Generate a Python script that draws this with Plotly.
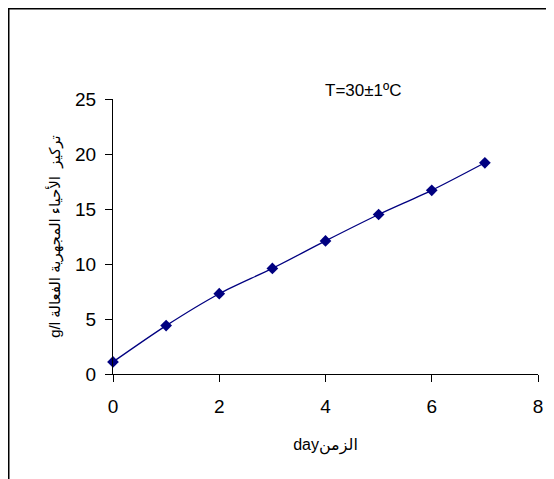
import plotly.graph_objects as go

days = [0, 1, 2, 3, 4, 5, 6, 7]
concentration = [1.1, 4.4, 7.3, 9.6, 12.1, 14.5, 16.7, 19.2]

x_ticks = [0, 2, 4, 6, 8]
y_ticks = [0, 5, 10, 15, 20, 25]

x_title = "dayالزمن"
y_title = "g/l تركيز  الأحياء المجهرية الفعالة"
note = "T=30±1ºC"

OFF = 8  # page body margin
W, H = 554 - OFF, 479 - OFF
L = 113 - OFF
T = 99 - OFF
R = W - (538 - OFF)
B = H - (374 - OFF)
pw, ph = W - L - R, H - T - B

def px_to_paper_x(px):
    return (px - OFF - L) / pw

def px_to_paper_y(py):
    return (H - B - (py - OFF)) / ph

font_family = "Liberation Sans, Arial, DejaVu Sans, sans-serif"

fig = go.Figure()
fig.add_trace(go.Scatter(
    x=days, y=concentration,
    mode="lines+markers",
    line=dict(color="#000080", width=1.3, shape="spline", smoothing=0.8),
    marker=dict(symbol="diamond", size=9, color="#000080"),
    showlegend=False,
    cliponaxis=False,
))

fig.update_layout(
    width=W, height=H,
    margin=dict(l=L, r=R, t=T, b=B, autoexpand=False),
    paper_bgcolor="white", plot_bgcolor="white",
    font=dict(family=font_family, color="black"),
    xaxis=dict(
        range=[0, 8], tickvals=x_ticks, ticktext=[str(v) for v in x_ticks],
        showgrid=False, zeroline=False, showline=True, linecolor="black", linewidth=1,
        ticks="outside", ticklen=7, tickcolor="black", tickwidth=1,
        ticklabelstandoff=8,
        tickfont=dict(size=19), automargin=False,
        title=dict(text=x_title, font=dict(size=16), standoff=23),
    ),
    yaxis=dict(
        range=[0, 25], tickvals=y_ticks, ticktext=[str(v) for v in y_ticks],
        showgrid=False, zeroline=False, showline=True, linecolor="black", linewidth=1,
        ticks="outside", ticklen=7, tickcolor="black", tickwidth=1,
        ticklabelstandoff=5,
        tickfont=dict(size=19), automargin=False,
        title=dict(text=y_title, font=dict(size=15), standoff=10),
    ),
    annotations=[dict(
        text=note, x=px_to_paper_x(363), y=px_to_paper_y(90),
        xref="paper", yref="paper", showarrow=False,
        font=dict(size=17), xanchor="center", yanchor="middle",
    )],
    shapes=[dict(
        type="rect", xref="paper", yref="paper",
        x0=px_to_paper_x(OFF + 0.75), x1=px_to_paper_x(600),
        y0=px_to_paper_y(520), y1=px_to_paper_y(OFF + 0.75),
        line=dict(color="black", width=1.5), fillcolor="rgba(0,0,0,0)",
        layer="above",
    )],
)

fig.write_html("out.html")
